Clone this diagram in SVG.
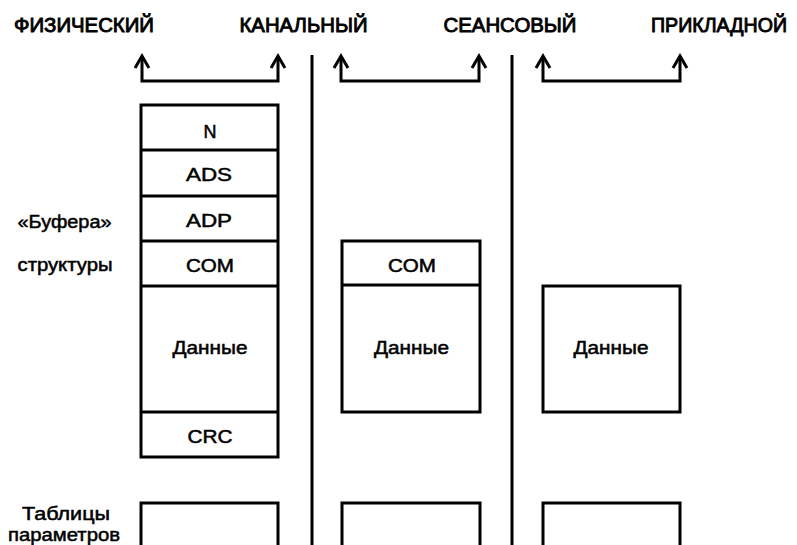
<svg xmlns="http://www.w3.org/2000/svg" width="797" height="545" viewBox="0 0 797 545">
<style>
text{font-family:"Liberation Sans",Arial,sans-serif;fill:#000;stroke:#000;stroke-width:0.5}
.h{font-size:20px;stroke-width:0.9}
.t{font-size:18px;text-anchor:middle}
.l{font-size:18px}
.b{fill:#fff;stroke:#000;stroke-width:3}
.ln{fill:none;stroke:#000;stroke-width:3}
</style>
<rect width="797" height="545" fill="#fff"/>
<g id="headers">
<text class="h" x="14" y="31.5" textLength="140" lengthAdjust="spacingAndGlyphs">ФИЗИЧЕСКИЙ</text>
<text class="h" x="239.5" y="31.5" textLength="128" lengthAdjust="spacingAndGlyphs">КАНАЛЬНЫЙ</text>
<text class="h" x="443.5" y="31.5" textLength="133" lengthAdjust="spacingAndGlyphs">СЕАНСОВЫЙ</text>
<text class="h" x="651" y="31.5" textLength="136" lengthAdjust="spacingAndGlyphs">ПРИКЛАДНОЙ</text>
</g>
<g id="connectors">
<path class="ln" d="M142 57V81H278V57"/>
<path class="ln" d="M341 57V81H479V57"/>
<path class="ln" d="M543 57V81H680V57"/>
<g class="ln">
<path d="M135 68L142 56L149 68"/>
<path d="M271 68L278 56L285 68"/>
<path d="M334 68L341 56L348 68"/>
<path d="M472 68L479 56L486 68"/>
<path d="M536 68L543 56L550 68"/>
<path d="M673 68L680 56L687 68"/>
</g>
<line class="ln" x1="312" y1="55" x2="312" y2="545"/>
<line class="ln" x1="512" y1="55" x2="512" y2="545"/>
</g>
<g id="labels">
<text class="l" x="17.5" y="227.5" textLength="94" lengthAdjust="spacingAndGlyphs">«Буфера»</text>
<text class="l" x="17.5" y="271" textLength="95" lengthAdjust="spacingAndGlyphs">структуры</text>
<text class="l" x="22" y="520" textLength="88" lengthAdjust="spacingAndGlyphs">Таблицы</text>
<text class="l" x="8" y="541" textLength="112" lengthAdjust="spacingAndGlyphs">параметров</text>
</g>
<g id="phys-buffer">
<rect class="b" x="141" y="105" width="137" height="352"/>
<line class="ln" x1="141" y1="150" x2="278" y2="150"/>
<line class="ln" x1="141" y1="196" x2="278" y2="196"/>
<line class="ln" x1="141" y1="241" x2="278" y2="241"/>
<line class="ln" x1="141" y1="286" x2="278" y2="286"/>
<line class="ln" x1="141" y1="412" x2="278" y2="412"/>
<text class="t" x="210" y="137.5">N</text>
<text class="t" x="209" y="181" textLength="46" lengthAdjust="spacingAndGlyphs">ADS</text>
<text class="t" x="209" y="226.5" textLength="46" lengthAdjust="spacingAndGlyphs">ADP</text>
<text class="t" x="210" y="271.5" textLength="48" lengthAdjust="spacingAndGlyphs">COM</text>
<text class="t" x="210" y="354" textLength="75" lengthAdjust="spacingAndGlyphs">Данные</text>
<text class="t" x="210" y="443" textLength="45" lengthAdjust="spacingAndGlyphs">CRC</text>
</g>
<g id="chan-buffer">
<rect class="b" x="342" y="241" width="138" height="171"/>
<line class="ln" x1="342" y1="285" x2="480" y2="285"/>
<text class="t" x="412" y="271.5" textLength="48" lengthAdjust="spacingAndGlyphs">COM</text>
<text class="t" x="411.5" y="354" textLength="75" lengthAdjust="spacingAndGlyphs">Данные</text>
</g>
<g id="sess-buffer">
<rect class="b" x="543" y="286" width="137" height="126"/>
<text class="t" x="611" y="354" textLength="75" lengthAdjust="spacingAndGlyphs">Данные</text>
</g>
<g id="tables">
<path class="ln" d="M141 547V503H278V547"/>
<path class="ln" d="M342 547V503H480V547"/>
<path class="ln" d="M543 547V503H680V547"/>
</g>
</svg>
